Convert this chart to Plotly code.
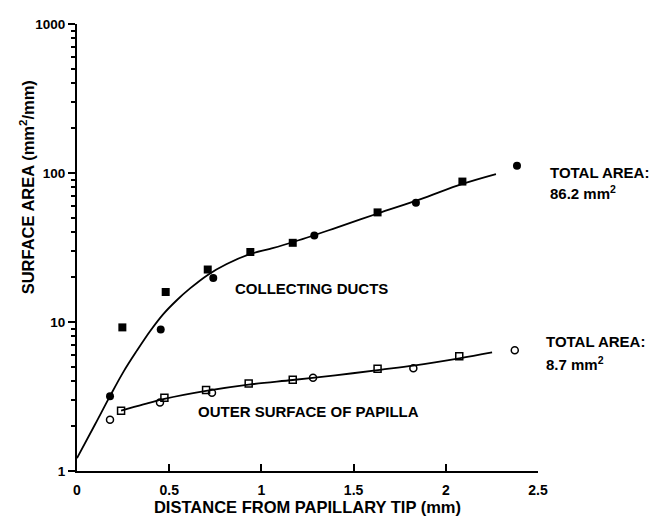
import plotly.graph_objects as go
import math

# ---- data ----
# Collecting ducts (filled symbols)
duct_sq_x = [0.246, 0.481, 0.709, 0.940, 1.170, 1.630, 2.090]
duct_sq_y = [9.2, 15.9, 22.5, 29.5, 34.0, 54.4, 87.6]
duct_ci_x = [0.179, 0.454, 0.739, 1.287, 1.838, 2.386]
duct_ci_y = [3.18, 8.9, 19.7, 38.0, 63.2, 111.7]

# Outer surface of papilla (open symbols)
outer_sq_x = [0.239, 0.474, 0.700, 0.931, 1.170, 1.630, 2.073]
outer_sq_y = [2.54, 3.10, 3.49, 3.86, 4.10, 4.85, 5.90]
outer_ci_x = [0.179, 0.450, 0.732, 1.280, 1.824, 2.374]
outer_ci_y = [2.21, 2.88, 3.35, 4.22, 4.90, 6.47]

# Fitted curves
fit_duct_x = [0.0, 0.0976, 0.179, 0.251, 0.324, 0.396, 0.468, 0.541, 0.613,
              0.709, 0.812, 0.940, 1.047, 1.170, 1.408, 1.631, 1.860, 2.090, 2.272]
fit_duct_y = [1.22, 2.05, 3.18, 4.61, 6.40, 8.67, 11.3, 14.0, 16.8,
              20.7, 24.5, 28.6, 31.0, 34.3, 43.0, 53.5, 66.5, 84.5, 98.4]
fit_outer_x = [0.239, 0.360, 0.474, 0.700, 0.931, 1.170, 1.400, 1.643, 1.824, 2.073, 2.251]
fit_outer_y = [2.54, 2.80, 3.05, 3.45, 3.80, 4.08, 4.38, 4.78, 5.10, 5.70, 6.25]

x_ticks = [0, 0.5, 1, 1.5, 2, 2.5]
x_tick_labels = ["0", "0.5", "1", "1.5", "2", "2.5"]
y_ticks = [1, 10, 100, 1000]
y_tick_labels = ["1", "10", "100", "1000"]

FONT = "Liberation Sans, Arial, sans-serif"

fig = go.Figure()
fig.add_trace(go.Scatter(x=fit_duct_x, y=fit_duct_y, mode="lines",
                         line=dict(color="black", width=1.8, shape="spline"),
                         hoverinfo="skip"))
fig.add_trace(go.Scatter(x=fit_outer_x, y=fit_outer_y, mode="lines",
                         line=dict(color="black", width=1.8, shape="spline"),
                         hoverinfo="skip"))
fig.add_trace(go.Scatter(x=duct_sq_x, y=duct_sq_y, mode="markers",
                         marker=dict(symbol="square", size=8, color="black")))
fig.add_trace(go.Scatter(x=duct_ci_x, y=duct_ci_y, mode="markers",
                         marker=dict(symbol="circle", size=8, color="black")))
fig.add_trace(go.Scatter(x=outer_sq_x, y=outer_sq_y, mode="markers",
                         marker=dict(symbol="square-open", size=7, color="black",
                                     line=dict(width=1.5, color="black"))))
fig.add_trace(go.Scatter(x=outer_ci_x, y=outer_ci_y, mode="markers",
                         marker=dict(symbol="circle-open", size=7, color="black",
                                     line=dict(width=1.5, color="black"))))

ann_font = dict(family=FONT, size=15, color="black", weight="bold")
fig.add_annotation(x=0.846, y=math.log10(16.7), xref="x", yref="y",
                   text="COLLECTING DUCTS", showarrow=False,
                   xanchor="left", yanchor="middle", font=ann_font)
fig.add_annotation(x=0.645, y=math.log10(2.49), xref="x", yref="y",
                   text="OUTER SURFACE OF PAPILLA", showarrow=False,
                   xanchor="left", yanchor="middle", font=ann_font)
fig.add_annotation(x=1.0217, y=0.668, xref="paper", yref="paper",
                   text="TOTAL AREA:", showarrow=False,
                   xanchor="left", yanchor="middle", font=ann_font)
fig.add_annotation(x=1.0217, y=0.622, xref="paper", yref="paper",
                   text="86.2 mm<sup>2</sup>", showarrow=False,
                   xanchor="left", yanchor="middle", font=ann_font)
fig.add_annotation(x=1.013, y=0.290, xref="paper", yref="paper",
                   text="TOTAL AREA:", showarrow=False,
                   xanchor="left", yanchor="middle", font=ann_font)
fig.add_annotation(x=1.013, y=0.240, xref="paper", yref="paper",
                   text="8.7 mm<sup>2</sup>", showarrow=False,
                   xanchor="left", yanchor="middle", font=ann_font)
# y-axis title (placed like the reference, above the plot centre)
fig.add_annotation(x=-0.108, y=0.635, xref="paper", yref="paper",
                   text="SURFACE AREA (mm<sup>2</sup>/mm)", showarrow=False,
                   textangle=-90, xanchor="center", yanchor="middle",
                   font=dict(family=FONT, size=16.5, color="black", weight="bold"))

fig.update_layout(
    width=650, height=525,
    margin=dict(l=77, r=112, t=24, b=46, pad=0),
    paper_bgcolor="white", plot_bgcolor="white",
    showlegend=False,
    font=dict(family=FONT, color="black"),
)
fig.update_xaxes(
    range=[0, 2.5], tickvals=x_ticks, ticktext=x_tick_labels,
    showline=True, linecolor="black", linewidth=2,
    ticks="inside", ticklen=7, tickwidth=2, tickcolor="black",
    showgrid=False, zeroline=False, ticklabelstandoff=5,
    tickfont=dict(family=FONT, size=14, color="black", weight="bold"),
    title=dict(text="DISTANCE FROM PAPILLARY TIP (mm)", standoff=4,
               font=dict(family=FONT, size=16.5, color="black", weight="bold")),
)
fig.update_yaxes(
    type="log", range=[0, 3], tickvals=y_ticks, ticktext=y_tick_labels,
    showline=True, linecolor="black", linewidth=2,
    ticks="outside", ticklen=7, tickwidth=2, tickcolor="black",
    minor=dict(ticks="outside", ticklen=4, tickwidth=1.5, tickcolor="black",
               dtick="D1", showgrid=False),
    showgrid=False, zeroline=False,
    tickfont=dict(family=FONT, size=13.5, color="black", weight="bold"),
)

fig.write_html("out.html", config={"displayModeBar": False},
               post_script="document.body.style.margin='0';document.body.style.overflow='hidden';")
